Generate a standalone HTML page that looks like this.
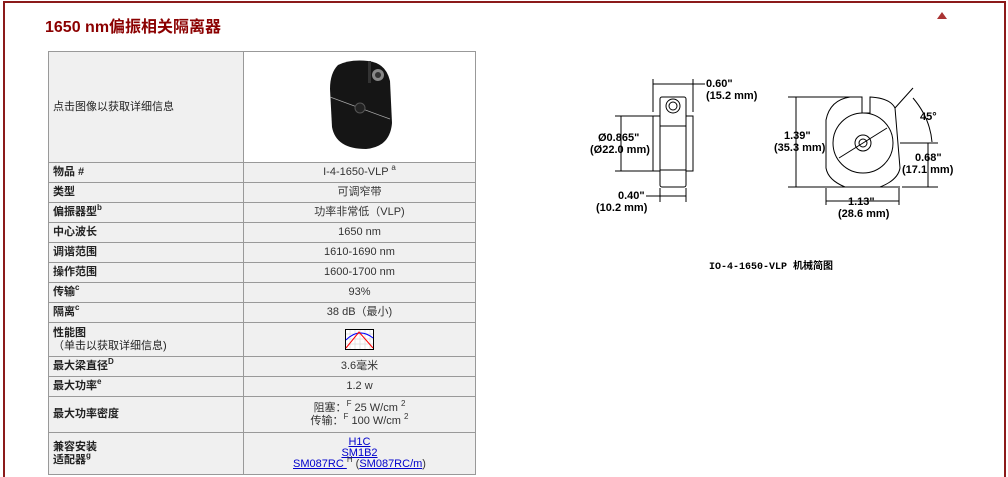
<!DOCTYPE html>
<html><head><meta charset="utf-8"><style>
*{margin:0;padding:0;box-sizing:border-box}
html,body{width:1008px;height:477px;overflow:hidden}
body{background:#fff;position:relative;font-family:"Liberation Sans","Noto Sans CJK SC",sans-serif;}
.frame{position:absolute;left:3px;top:1px;width:1003px;height:476px;border:2px solid #8b1a1a;border-bottom:none}
h1{position:absolute;left:45px;top:13px;font-size:16px;color:#8b0000;font-weight:bold;font-family:"Liberation Sans","Noto Sans CJK SC",sans-serif;}
.tri{position:absolute;left:937px;top:12px;width:0;height:0;border-left:5px solid transparent;border-right:5px solid transparent;border-bottom:7px solid #a33;}
table{position:absolute;left:48px;top:51px;width:428px;border-collapse:collapse;background:#f0f0f0;font-size:11px;color:#333}
td{border:1px solid #999;padding:0 4px;height:20px;line-height:13px}
td.l{width:195px;font-weight:bold;color:#222}
td.r{text-align:center}
sup{font-size:8px;vertical-align:5px;line-height:0}
a{color:#00c;text-decoration:underline}
</style></head><body>
<div class="frame"></div>
<h1>1650 nm偏振相关隔离器</h1>
<div class="tri"></div>
<table>
<tr><td class="l" style="height:111px;font-weight:normal">点击图像以获取详细信息</td><td class="r" style="background:#fff">
<svg width="80" height="96" viewBox="0 0 80 96"><path d="M18 8 Q30 2 48 4 Q66 6 70 24 L72 66 Q70 90 46 92 Q16 92 12 70 L10 32 Q10 16 18 8Z" fill="#151515"/><rect x="48" y="4" width="3" height="22" fill="#333"/><circle cx="58" cy="18" r="6" fill="#888"/><circle cx="58" cy="18" r="3" fill="#333"/><line x1="10" y1="40" x2="70" y2="62" stroke="#aaa" stroke-width="0.7"/><circle cx="40" cy="51" r="5" fill="#222" stroke="#555"/></svg></td></tr>
<tr><td class="l">物品 #</td><td class="r">I-4-1650-VLP <sup>a</sup></td></tr>
<tr><td class="l">类型</td><td class="r">可调窄带</td></tr>
<tr><td class="l">偏振器型<sup>b</sup></td><td class="r">功率非常低（VLP)</td></tr>
<tr><td class="l">中心波长</td><td class="r">1650 nm</td></tr>
<tr><td class="l">调谐范围</td><td class="r">1610-1690 nm</td></tr>
<tr><td class="l">操作范围</td><td class="r">1600-1700 nm</td></tr>
<tr><td class="l">传输<sup>c</sup></td><td class="r">93%</td></tr>
<tr><td class="l">隔离<sup>c</sup></td><td class="r">38 dB（最小)</td></tr>
<tr><td class="l" style="height:34px">性能图<br><span style="font-weight:normal">（单击以获取详细信息)</span></td><td class="r"><svg width="29" height="21" style="vertical-align:middle"><rect x="0.5" y="0.5" width="28" height="20" fill="#fff" stroke="#000"/><path d="M5 1V20M10 1V20M15 1V20M20 1V20M25 1V20M1 5H28M1 10H28M1 15H28" stroke="#ccc" stroke-width="0.5"/><path d="M1 11 Q14 -2 28 9" stroke="#00f" fill="none"/><path d="M1 19 L14 3 L28 19" stroke="#f00" fill="none"/></svg></td></tr>
<tr><td class="l">最大梁直径<sup>D</sup></td><td class="r">3.6毫米</td></tr>
<tr><td class="l">最大功率<sup>e</sup></td><td class="r">1.2 w</td></tr>
<tr><td class="l" style="height:36px">最大功率密度</td><td class="r">阻塞：<sup>F</sup> 25 W/cm <sup>2</sup><br>传输：<sup>F</sup> 100 W/cm <sup>2</sup></td></tr>
<tr><td class="l" style="height:42px">兼容安装<br>适配器<sup>g</sup></td><td class="r" style="line-height:11px"><a>H1C</a><br><a>SM1B2</a><br><a>SM087RC </a><sup>H</sup> (<a>SM087RC/m</a>)</td></tr>
</table>
<svg style="position:absolute;left:580px;top:60px" width="400" height="220" font-family="Liberation Sans,sans-serif" font-size="11" font-weight="bold" fill="#000">
<g stroke="#000" stroke-width="1" fill="none">
<rect x="80" y="37" width="26" height="90" rx="2"/>
<line x1="80" y1="66" x2="106" y2="66"/><line x1="80" y1="110" x2="106" y2="110"/>
<rect x="73" y="56" width="7" height="55"/><rect x="106" y="56" width="7" height="55"/>
<circle cx="93" cy="46" r="7"/><circle cx="93" cy="46" r="4"/>
<line x1="73" y1="19" x2="73" y2="52"/><line x1="113" y1="19" x2="113" y2="52"/><line x1="73" y1="24" x2="125" y2="24"/>
<line x1="35" y1="56" x2="73" y2="56"/><line x1="35" y1="111" x2="73" y2="111"/><line x1="41" y1="56" x2="41" y2="111"/>
<line x1="80" y1="128" x2="80" y2="142"/><line x1="106" y1="128" x2="106" y2="142"/><line x1="66" y1="136" x2="106" y2="136"/>
<path d="M270 37 L282 37 L282 53 L290 53 L290 37 Q310 38 315 48 L320 108 Q318 120 300 127 L265 127 Q248 120 246 108 L246 60 Q250 40 270 37Z"/>
<circle cx="283" cy="83" r="30"/><circle cx="283" cy="83" r="8"/><circle cx="283" cy="83" r="4"/>
<line x1="259" y1="98" x2="307" y2="68"/>
<line x1="208" y1="37" x2="280" y2="37"/><line x1="208" y1="127" x2="320" y2="127"/><line x1="216" y1="37" x2="216" y2="127"/>
<line x1="320" y1="83" x2="358" y2="83"/><line x1="322" y1="127" x2="358" y2="127"/><line x1="348" y1="83" x2="348" y2="127"/>
<line x1="315" y1="48" x2="333" y2="28"/><path d="M333 38 Q350 58 352 82"/>
<line x1="246" y1="128" x2="246" y2="145"/><line x1="319" y1="128" x2="319" y2="145"/><line x1="246" y1="141" x2="319" y2="141"/>
</g>
<text x="126" y="27">0.60"</text><text x="126" y="39">(15.2 mm)</text>
<text x="18" y="81">Ø0.865"</text><text x="10" y="93">(Ø22.0 mm)</text>
<text x="38" y="139">0.40"</text><text x="16" y="151">(10.2 mm)</text>
<text x="204" y="79">1.39"</text><text x="194" y="91">(35.3 mm)</text>
<text x="340" y="60">45°</text>
<text x="335" y="101">0.68"</text><text x="322" y="113">(17.1 mm)</text>
<text x="268" y="145">1.13"</text><text x="258" y="157">(28.6 mm)</text>
<text x="129" y="209" font-family="Liberation Mono,Noto Sans CJK SC,monospace" font-size="10">IO-4-1650-VLP 机械简图</text>
</svg>
</body></html>
